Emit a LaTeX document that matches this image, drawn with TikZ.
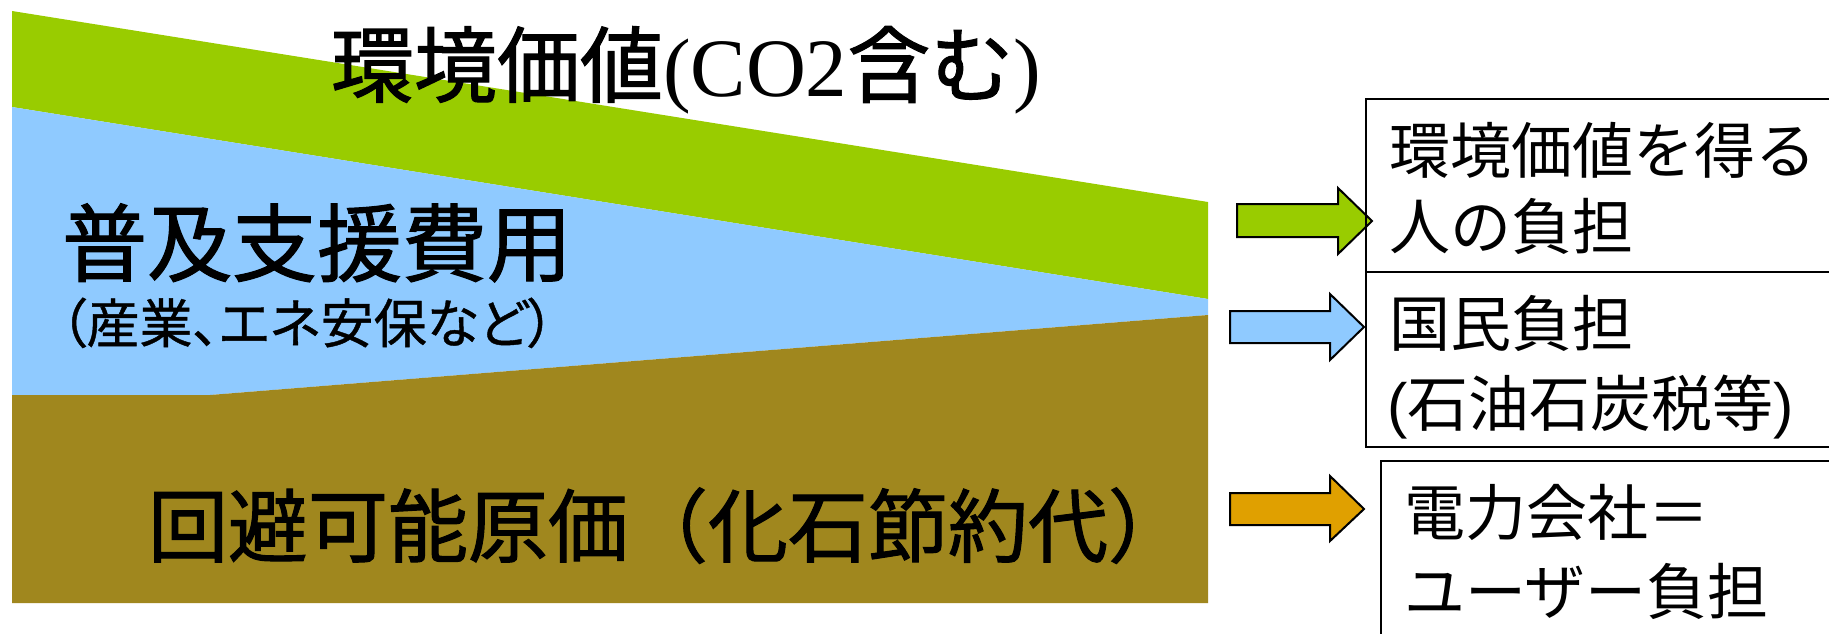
\documentclass[tikz,border=0pt]{standalone}
\usepackage{fontspec}
\setmainfont{Liberation Serif}
\newfontfamily\jp{Noto Sans CJK JP}
\newfontfamily\jpb{Noto Sans CJK JP}[FakeBold=1.3]
\newfontfamily\jpp{Noto Sans CJK JP}[RawFeature=+palt,FakeBold=0.8]
\newfontfamily\arialf{Liberation Sans}
\definecolor{cgreen}{HTML}{99CC00}
\definecolor{cblue}{HTML}{8FCAFF}
\definecolor{cbrown}{HTML}{A0871E}
\definecolor{corange}{HTML}{E0A000}
\newcommand{\fsz}[1]{\fontsize{#1}{#1}\selectfont}
\begin{document}
\begin{tikzpicture}[x=1pt,y=-1pt,
  txt/.style={anchor=base west,inner sep=0pt,outer sep=0pt},
  blockarrow/.style={draw=black,line width=2pt,line join=miter},
  boxline/.style={draw=black,line width=2.5pt}]
\useasboundingbox (0,0) rectangle (1829,633);
\fill[white] (0,0) rectangle (1829,633);
% bands
\fill[cgreen] (12,11) -- (1208,202) -- (1208,299) -- (12,107) -- cycle;
\fill[cblue] (12,107) -- (1208,299) -- (1208,315) -- (210,395) -- (12,395) -- cycle;
\fill[cbrown] (12,395) -- (210,395) -- (1208,315) -- (1208,603) -- (12,603) -- cycle;
% band labels
\node[txt] (t1) at (331,96) {\jpb\fsz{83}環境価値\rmfamily(CO2\jpb 含む\rmfamily)};
\node[txt] (t2) at (62,275) {\jpb\fsz{85}普及支援費用};
\node[txt] (t3) at (60,343) {\jpp\fsz{53}（産業、エネ安保など）};
\node[txt] (t4) at (148,556) {\jpb\fsz{80}回避可能原価（化石節約代）};
% arrows
\path[blockarrow,fill=cgreen] (1237,204) -- (1338,204) -- (1338,188) -- (1372,221) -- (1338,254) -- (1338,237) -- (1237,237) -- cycle;
\path[blockarrow,fill=cblue] (1230,311) -- (1330,311) -- (1330,294) -- (1364,327) -- (1330,360) -- (1330,343) -- (1230,343) -- cycle;
\path[blockarrow,fill=corange] (1230,493) -- (1330,493) -- (1330,476) -- (1364,509) -- (1330,541) -- (1330,525) -- (1230,525) -- cycle;
% boxes
\draw[boxline] (1850,99) -- (1366,99) -- (1366,447) -- (1850,447);
\draw[boxline] (1366,272) -- (1850,272);
\draw[boxline] (1850,461) -- (1381,461) -- (1381,650);
% box texts
\node[txt] (b1a) at (1389,173) {\jp\fsz{61}環境価値を得る};
\node[txt] (b1b) at (1389,249) {\jp\fsz{61}人の負担};
\node[txt] (b2a) at (1389,346) {\jp\fsz{61}国民負担};
\node[txt] (b2b) at (1387,426) {\fsz{61}\arialf(\jp 石油石炭税等\arialf)};
\node[txt] (b3a) at (1404,535) {\jp\fsz{61}電力会社＝};
\node[txt] (b3b) at (1404,614) {\jp\fsz{61}ユーザー負担};
\end{tikzpicture}
\end{document}
